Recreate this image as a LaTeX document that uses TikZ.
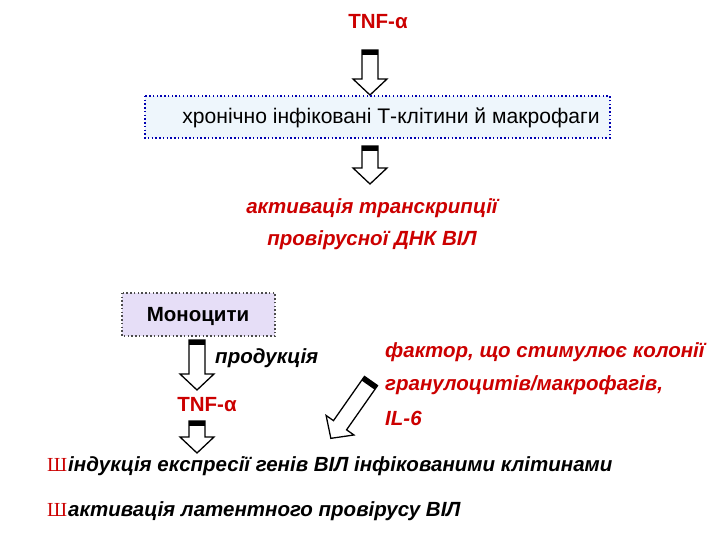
\documentclass[tikz,border=0pt]{standalone}
\usepackage{fontspec}
\setmainfont{Liberation Sans}
\newfontfamily\serifb{Liberation Serif}
\definecolor{myred}{HTML}{CC0000}
\definecolor{boxblue}{HTML}{EEF6FC}
\definecolor{boxlav}{HTML}{E6DEF7}
\newcommand\barrow[4]{%
\begin{scope}[shift={#1},rotate=#2]
\draw[line width=1.1pt,fill=white,line join=miter] (-8,0)--(8,0)--(8,#3-16)--(17,#3-16)--(0,#3)--(-17,#3-16)--(-8,#3-16)--cycle;
\fill[black] (-8,0) rectangle (8,5);
\end{scope}}
\begin{document}
\begin{tikzpicture}[x=0.03cm,y=-0.03cm,
  t/.style={font=\fontsize{17.5}{20}\selectfont\bfseries,inner sep=0pt},
  r/.style={t,text=myred},
  ri/.style={r,font=\fontsize{17.5}{20}\selectfont\bfseries\itshape},
  bi/.style={t,font=\fontsize{17.5}{20}\selectfont\bfseries\itshape}]
\useasboundingbox[fill=white] (0,0) rectangle (720,540);
\node[r] (tnf1) at (378,22) {TNF-α};
\barrow{(370,50)}{0}{45}{}
\path[draw=blue!70!black,dotted,line width=1.2pt,fill=boxblue] (145,96) rectangle (610,138);
\node[t,font=\fontsize{18}{20}\selectfont] (boxt) at (391,118) {хронічно інфіковані Т-клітини й макрофаги};
\barrow{(370,146)}{0}{38}{}
\node[ri] (act1) at (372,208) {активація транскрипції};
\node[ri] (act2) at (372,240) {провірусної ДНК ВІЛ};
\path[draw=black!70,dotted,line width=1.2pt,fill=boxlav] (122,293) rectangle (275,336);
\node[t] (mono) at (198,316) {Моноцити};
\barrow{(197,340)}{0}{50}{}
\node[bi,anchor=west] (prod) at (215,358) {продукція};
\node[r] (tnf2) at (207,405) {TNF-α};
\barrow{(197,421)}{0}{32}{}
\barrow{(371,381)}{-35}{70}{}
\node[ri,anchor=west] (f1) at (385,352) {фактор, що стимулює колонії};
\node[ri,anchor=west] (f2) at (385,385) {гранулоцитів/макрофагів,};
\node[ri,anchor=west] (f3) at (385,418) {IL-6};
\node[anchor=west,inner sep=0pt,text=myred,font=\serifb\fontsize{17}{20}\selectfont] (b1) at (47,465) {Ш};
\node[bi,anchor=west] (l1) at (68,466) {індукція експресії генів ВІЛ інфікованими клітинами};
\node[anchor=west,inner sep=0pt,text=myred,font=\serifb\fontsize{17}{20}\selectfont] (b2) at (47,510) {Ш};
\node[bi,anchor=west] (l2) at (68,511) {активація латентного провірусу ВІЛ};
\end{tikzpicture}
\end{document}
